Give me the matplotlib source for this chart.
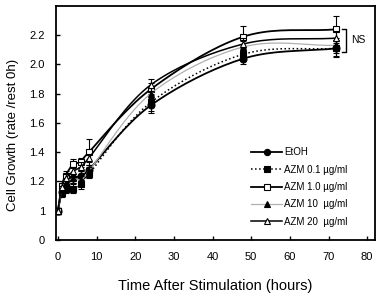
import numpy as np
import matplotlib
matplotlib.use('Agg')
from matplotlib import pyplot as plt

plt.rcParams['font.family'] = ['Liberation Sans', 'DejaVu Sans']

# data
times = [0, 1, 2, 4, 6, 8, 24, 48, 72]
etoh = [1.00, 1.13, 1.17, 1.22, 1.24, 1.28, 1.72, 2.04, 2.11]
azm01 = [1.00, 1.12, 1.15, 1.15, 1.18, 1.25, 1.74, 2.07, 2.11]
azm1 = [1.00, 1.17, 1.24, 1.32, 1.33, 1.40, 1.83, 2.19, 2.24]
azm10 = [1.00, 1.14, 1.19, 1.22, 1.21, 1.27, 1.80, 2.12, 2.13]
azm20 = [1.00, 1.16, 1.22, 1.27, 1.30, 1.36, 1.86, 2.14, 2.18]
err_etoh = [0.02, 0.03, 0.03, 0.03, 0.03, 0.03, 0.05, 0.04, 0.05]
err_azm01 = [0.02, 0.03, 0.03, 0.03, 0.03, 0.03, 0.06, 0.04, 0.06]
err_azm1 = [0.02, 0.03, 0.03, 0.03, 0.03, 0.09, 0.04, 0.07, 0.09]
err_azm10 = [0.02, 0.03, 0.03, 0.03, 0.03, 0.03, 0.04, 0.04, 0.05]
err_azm20 = [0.02, 0.03, 0.03, 0.03, 0.03, 0.03, 0.04, 0.04, 0.05]
labels = ['EtOH', 'AZM 0.1 \u00b5g/ml', 'AZM 1.0 \u00b5g/ml',
          'AZM 10  \u00b5g/ml', 'AZM 20  \u00b5g/ml']
yticks = [0.8, 1.0, 1.2, 1.4, 1.6, 1.8, 2.0, 2.2]
ytick_labels = ['0', '1', '1.2', '1.4', '1.6', '1.8', '2.0', '2.2']
xticks = [0, 10, 20, 30, 40, 50, 60, 70, 80]


def smooth(x, y, n=20):
    # Catmull-Rom like the "smoothed line" of a spreadsheet
    x = np.asarray(x, float)
    y = np.asarray(y, float)
    px = np.concatenate([[2 * x[0] - x[1]], x, [2 * x[-1] - x[-2]]])
    py = np.concatenate([[2 * y[0] - y[1]], y, [2 * y[-1] - y[-2]]])
    out_x, out_y = [], []
    s = np.linspace(0, 1, n, endpoint=False)
    for i in range(1, len(px) - 2):
        for p, out in ((px, out_x), (py, out_y)):
            p0, p1, p2, p3 = p[i - 1], p[i], p[i + 1], p[i + 2]
            out.extend(0.5 * (2 * p1 + (-p0 + p2) * s
                              + (2 * p0 - 5 * p1 + 4 * p2 - p3) * s ** 2
                              + (-p0 + 3 * p1 - 3 * p2 + p3) * s ** 3))
    out_x.append(x[-1])
    out_y.append(y[-1])
    return out_x, out_y


fig = plt.figure(figsize=(3.81, 2.98), dpi=100)
ax = fig.add_axes([0.147, 0.195, 0.837, 0.785])

styles = [
    dict(color='black', ls='-', lw=1.3, marker='o', mfc='black'),
    dict(color='black', ls=':', lw=1.1, marker='s', mfc='black'),
    dict(color='black', ls='-', lw=1.3, marker='s', mfc='white'),
    dict(color='#b0b0b0', ls='-', lw=0.9, marker='^', mfc='black'),
    dict(color='black', ls='-', lw=1.1, marker='^', mfc='white'),
]
series = [etoh, azm01, azm1, azm10, azm20]
errs = [err_etoh, err_azm01, err_azm1, err_azm10, err_azm20]

for vals, err, st, lab in zip(series, errs, styles, labels):
    sx, sy = smooth(times, vals)
    ax.plot(sx, sy, color=st['color'], ls=st['ls'], lw=st['lw'])
    ax.errorbar(times, vals, yerr=err, fmt='none', ecolor='black',
                elinewidth=0.8, capsize=2.5, capthick=0.8)
    ax.plot(times, vals, ls='none', marker=st['marker'], ms=5,
            mfc=st['mfc'], mec='black', mew=0.8)
    # legend proxy
    ax.plot([], [], color=st['color'], ls=st['ls'], lw=st['lw'],
            marker=st['marker'], ms=4.5, mfc=st['mfc'], mec='black', mew=0.8,
            label=lab)

# NS bracket
ax.plot([73.6, 74.6, 74.6, 73.6], [2.245, 2.245, 2.085, 2.085],
        color='black', lw=1)
ax.text(75.8, 2.165, 'NS', fontsize=7.5, va='center', ha='left')

ax.set_xlim(-0.5, 82)
ax.set_ylim(0.8, 2.4)
ax.set_xticks(xticks)
ax.set_yticks(yticks)
ax.set_yticklabels(ytick_labels)
ax.tick_params(direction='in', labelsize=8, length=3, width=1)
ax.tick_params(axis='x', pad=9)
ax.tick_params(axis='y', pad=8)
for sp in ax.spines.values():
    sp.set_linewidth(1.3)

ax.set_xlabel('Time After Stimulation (hours)', fontsize=10.5, labelpad=12)
ax.set_ylabel('Cell Growth (rate /rest 0h)', fontsize=9.5)
ax.yaxis.set_label_coords(-0.115, 0.45)

ax.legend(loc='lower left', bbox_to_anchor=(0.6, 0.04), frameon=False,
          fontsize=7, handlelength=3.2, labelspacing=0.75, handletextpad=0.2,
          borderaxespad=0)

fig.savefig('out.png', dpi=100)
